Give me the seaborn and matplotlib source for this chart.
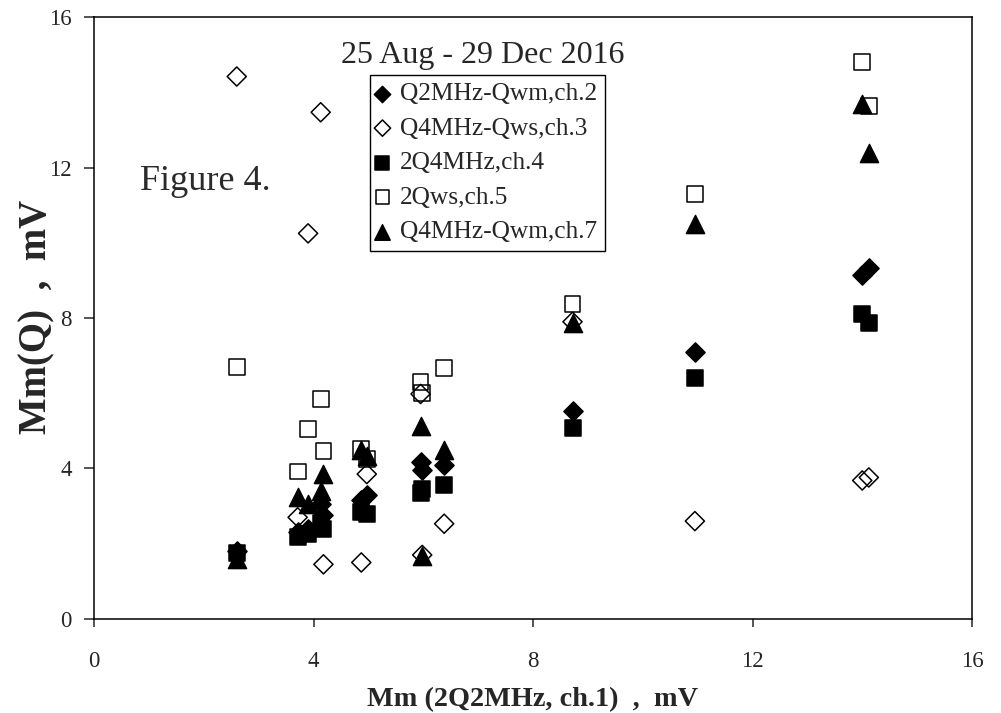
import seaborn as sns
import matplotlib.pyplot as plt
import pandas as pd

sns.set_style('ticks')
plt.rcParams['font.family'] = ['Liberation Serif', 'DejaVu Serif']

# Mm (2Q2MHz, ch.1), mV  -- one value per measurement
mm_ch1 = [2.6, 3.71, 3.9, 4.13, 4.18, 4.87, 4.97, 5.95, 5.98, 6.38, 8.72, 10.95, 14.0, 14.12]

# Mm(Q), mV for each channel
q2mhz_qwm_ch2 = [1.8, 2.3, 2.4, 3.06, 2.75, 3.15, 3.3, 4.17, 3.95, 4.08, 5.52, 7.1, 9.15, 9.32]
q4mhz_qws_ch3 = [14.42, 2.7, 10.25, 13.47, 1.45, 1.5, 3.85, 5.98, 1.7, 2.53, 7.9, 2.6, 3.68, 3.76]
two_q4mhz_ch4 = [1.75, 2.17, 2.26, 2.55, 2.39, 2.84, 2.79, 3.35, 3.45, 3.55, 5.08, 6.4, 8.1, 7.88]
two_qws_ch5 = [6.7, 3.92, 5.05, 5.85, 4.46, 4.52, 4.26, 6.3, 6.0, 6.67, 8.38, 11.3, 14.8, 13.63]
q4mhz_qwm_ch7 = [1.6, 3.24, 3.06, 3.41, 3.86, 4.48, 4.34, 5.14, 1.68, 4.48, 7.87, 10.5, 13.7, 12.4]

labels = ['Q2MHz-Qwm,ch.2', 'Q4MHz-Qws,ch.3', '2Q4MHz,ch.4', '2Qws,ch.5', 'Q4MHz-Qwm,ch.7']
values = [q2mhz_qwm_ch2, q4mhz_qws_ch3, two_q4mhz_ch4, two_qws_ch5, q4mhz_qwm_ch7]
markers = ['D', 'D', 's', 's', '^']
filled = [True, False, True, False, True]
sizes = [95, 95, 130, 130, 170]

fig = plt.figure(figsize=(10.01, 7.13), dpi=100)
ax = fig.add_axes([0.094, 0.132, 0.877, 0.844])

for lab, vals, mk, fill, sz in zip(labels, values, markers, filled, sizes):
    df = pd.DataFrame({'x': mm_ch1, 'y': vals})
    sns.scatterplot(x='x', y='y', data=df, marker=mk, s=sz, color='black',
                    edgecolor='black', linewidth=1.1, label=lab, ax=ax)
    if not fill:
        ax.collections[-1].set_facecolor('none')

ax.set_xlim(0, 16)
ax.set_ylim(0, 16)
ax.set_xticks([0, 4, 8, 12, 16])
ax.set_yticks([0, 4, 8, 12, 16])
ax.tick_params(axis='x', direction='out', length=6, width=1.1, pad=17, labelsize=16.5)
ax.tick_params(axis='y', direction='out', length=7, width=1.1, pad=9, labelsize=16.5)
for sp in ax.spines.values():
    sp.set_linewidth(1.1)
    sp.set_color('black')

ax.set_xlabel('Mm (2Q2MHz, ch.1)  ,  mV', fontsize=20.3, fontweight='bold')
ax.set_ylabel('Mm(Q)  ,  mV', fontsize=28, fontweight='bold')
ax.xaxis.set_label_coords(0.5, -0.113)
ax.yaxis.set_label_coords(-0.044, 0.502)

ax.text(7.09, 14.79, '25 Aug - 29 Dec 2016', ha='center', va='baseline', fontsize=23)
ax.text(0.84, 11.41, 'Figure 4.', ha='left', va='baseline', fontsize=26, color='#2a2a2a')

leg = ax.legend(loc='upper left', bbox_to_anchor=(0.314, 0.904), frameon=True,
                fancybox=False, edgecolor='black', framealpha=1, fontsize=18.3,
                handletextpad=0.5, labelspacing=0.46, borderpad=0.3,
                handlelength=0.4, borderaxespad=0, markerscale=0.85)
leg.get_frame().set_linewidth(1.0)

fig.savefig('out.png', dpi=100)
